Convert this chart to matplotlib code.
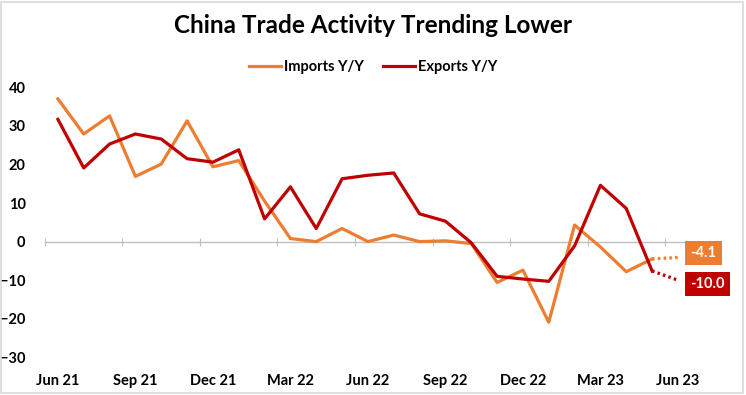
import matplotlib.pyplot as plt
from matplotlib.patches import Rectangle

plt.rcParams['font.family'] = ['Lato', 'DejaVu Sans']

months = ['Jun 21', 'Jul 21', 'Aug 21', 'Sep 21', 'Oct 21', 'Nov 21', 'Dec 21',
          'Jan 22', 'Feb 22', 'Mar 22', 'Apr 22', 'May 22', 'Jun 22', 'Jul 22',
          'Aug 22', 'Sep 22', 'Oct 22', 'Nov 22', 'Dec 22', 'Jan 23', 'Feb 23',
          'Mar 23', 'Apr 23', 'May 23', 'Jun 23']
imports = [37.0, 27.9, 32.6, 16.9, 20.1, 31.3, 19.4, 21.0, 10.5, 0.8, 0.0, 3.4,
           0.0, 1.7, 0.0, 0.2, -0.5, -10.6, -7.4, -20.9, 4.3, -1.4, -7.8, -4.5]
exports = [31.7, 19.1, 25.3, 27.9, 26.6, 21.5, 20.6, 23.8, 5.9, 14.2, 3.4, 16.3,
           17.2, 17.8, 7.2, 5.3, -0.3, -9.0, -9.7, -10.3, -1.1, 14.6, 8.6, -7.6]
imports_fcst = -4.1
exports_fcst = -10.0

orange = '#ED7D31'
red = '#C00000'

fig = plt.figure(figsize=(7.46, 3.95), dpi=100)
fig.patches.append(Rectangle((0.002, 0.004), 0.994, 0.992, transform=fig.transFigure,
                             fill=False, edgecolor='#D9D9D9', linewidth=1.2))
ax = fig.add_axes([0.0603, 0.0954, 0.9004, 0.6835])

x = list(range(len(imports)))
ax.plot(x, imports, color=orange, lw=2.3, label='Imports Y/Y', zorder=3)
ax.plot(x, exports, color=red, lw=2.3, label='Exports Y/Y', zorder=4)

# dotted lines to the June estimate
n = len(imports)
ax.plot([n - 1, n], [imports[-1], imports_fcst], color=orange, lw=2.3, ls=(0, (0.8, 1.0)), zorder=3)
ax.plot([n - 1, n], [exports[-1], exports_fcst], color=red, lw=2.3, ls=(0, (0.8, 1.0)), zorder=4)

ax.annotate('%.1f' % imports_fcst, (n, imports_fcst), xytext=(9, 3), textcoords='offset points',
            color='white', fontsize=10.5, fontweight='bold', va='center', ha='left',
            bbox=dict(boxstyle='square,pad=0.35', fc=orange, ec='none'))
ax.annotate('%.1f' % exports_fcst, (n, exports_fcst), xytext=(9, -3), textcoords='offset points',
            color='white', fontsize=10.5, fontweight='bold', va='center', ha='left',
            bbox=dict(boxstyle='square,pad=0.35', fc=red, ec='none'))

ax.set_xlim(-0.5, 25.5)
ax.set_ylim(-30, 40)
ax.set_yticks(range(-30, 41, 10))
ax.set_xticks(range(0, len(months), 3), months[::3])
ax.tick_params(axis='both', length=0, labelsize=10.5, colors='black')
ax.tick_params(axis='y', pad=14)
ax.tick_params(axis='x', pad=12)
for lab in ax.get_xticklabels() + ax.get_yticklabels():
    lab.set_fontweight('bold')
for s in ax.spines.values():
    s.set_visible(False)

# zero line with category tick marks
zero = ax.secondary_xaxis(30 / 70)
zero.spines['bottom'].set_color('#BFBFBF')
zero.spines['bottom'].set_linewidth(1)
zero.set_xticks([i - 0.5 for i in range(0, len(months), 3)])
zero.tick_params(direction='inout', length=6, color='#BFBFBF', labelbottom=False)

fig.text(0.5, 0.935, 'China Trade Activity Trending Lower', ha='center', va='center',
         fontsize=17.5, fontweight='bold')
leg = fig.legend(loc='center', bbox_to_anchor=(0.5, 0.83), ncol=2, frameon=False,
                 handlelength=2.2, handletextpad=0.2, columnspacing=1.3,
                 prop={'weight': 'bold', 'size': 10.5})

fig.savefig('out.png', dpi=100)
